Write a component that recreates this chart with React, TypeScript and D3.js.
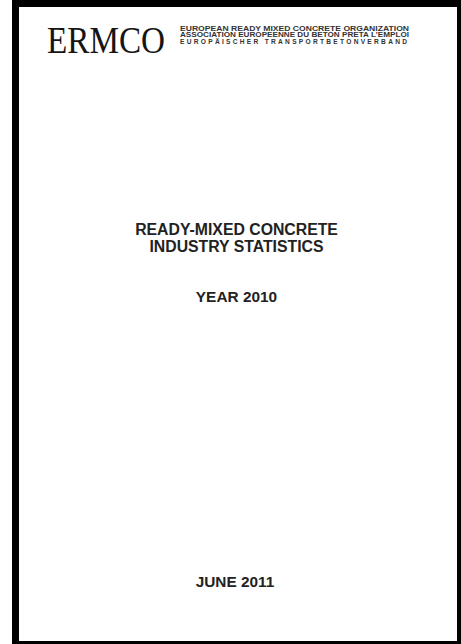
import React from "react";
import * as d3 from "d3";

const logoText = "ERMCO";
const orgLines = [
  "EUROPEAN READY MIXED CONCRETE ORGANIZATION",
  "ASSOCIATION EUROPEENNE DU BETON PRETA L'EMPLOI",
  "EUROPÄISCHER TRANSPORTBETONVERBAND",
];
const titleLines = ["READY-MIXED CONCRETE", "INDUSTRY STATISTICS"];
const yearLabel = "YEAR 2010";
const dateLabel = "JUNE 2011";

const W = 461;
const H = 644;

export default function App() {
  const orgY = d3.scalePoint<number>().domain(orgLines.map((_, i) => i)).range([31, 43.5]);
  const titleY = d3.scalePoint<number>().domain(titleLines.map((_, i) => i)).range([234.5, 252]);
  const cx = 236.5;
  return (
    <svg
      width={W}
      height={H}
      style={{ position: "absolute", left: 0, top: 0, background: "#fff" }}
    >
      <rect x={0} y={0} width={W} height={H} fill="#fff" />
      {/* page frame */}
      <rect x={12} y={0} width={449} height={644} fill="#000" />
      <rect x={19} y={7} width={438} height={634} fill="#fff" />
      <text
        x={47}
        y={53}
        fontFamily="'Liberation Serif', 'Times New Roman', serif"
        fontSize={37}
        fill="#151515"
        textLength={118}
        lengthAdjust="spacingAndGlyphs"
      >
        {logoText}
      </text>
      {orgLines.map((t, i) => (
        <text
          key={i}
          x={180}
          y={orgY(i)}
          fontFamily="'Liberation Sans Narrow', 'Liberation Sans', sans-serif"
          fontWeight="bold"
          fontSize={6.6}
          fill="#333"
          textLength={i === 2 ? 227 : 229}
          lengthAdjust={i === 2 ? "spacing" : "spacingAndGlyphs"}
        >
          {t}
        </text>
      ))}
      {titleLines.map((t, i) => (
        <text
          key={i}
          x={cx}
          y={titleY(i)}
          textAnchor="middle"
          fontFamily="'Liberation Sans', Arial, sans-serif"
          fontWeight="bold"
          fontSize={15.8}
          fill="#222"
        >
          {t}
        </text>
      ))}
      <text
        x={cx}
        y={302}
        textAnchor="middle"
        fontFamily="'Liberation Sans', Arial, sans-serif"
        fontWeight="bold"
        fontSize={15.4}
        fill="#222"
      >
        {yearLabel}
      </text>
      <text
        x={235}
        y={586.5}
        textAnchor="middle"
        fontFamily="'Liberation Sans', Arial, sans-serif"
        fontWeight="bold"
        fontSize={15.4}
        fill="#222"
      >
        {dateLabel}
      </text>
    </svg>
  );
}
